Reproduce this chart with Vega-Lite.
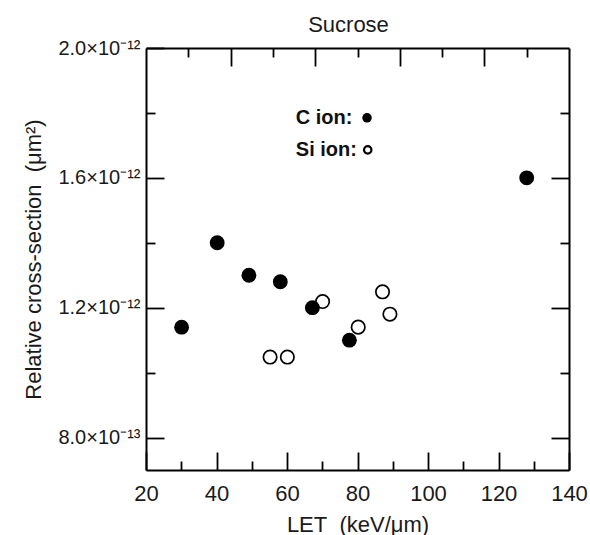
{
  "$schema": "https://vega.github.io/schema/vega-lite/v6.json",
  "autosize": "none",
  "width": 423,
  "height": 422,
  "padding": {"left": 146, "top": 48, "right": 21, "bottom": 65},
  "background": "white",
  "config": {
    "view": {"stroke": null},
    "font": "Liberation Sans",
    "axis": {
      "domainColor": "black",
      "domainWidth": 2,
      "tickColor": "black",
      "tickWidth": 1.8,
      "grid": false,
      "labelFont": "Liberation Sans",
      "labelColor": "#1a1a1a",
      "titleFont": "Liberation Sans",
      "titleFontSize": 22,
      "titleFontWeight": "normal",
      "titleColor": "#1a1a1a"
    }
  },
  "title": {"text": "Sucrose", "font": "Liberation Sans", "fontSize": 22, "fontWeight": "normal", "color": "#1a1a1a", "offset": 1, "dx": -9},
  "datasets": {
    "pts": [
      {"ion": "C", "LET": 30.1, "cs": 1.14e-12},
      {"ion": "C", "LET": 40.2, "cs": 1.40e-12},
      {"ion": "C", "LET": 49.2, "cs": 1.30e-12},
      {"ion": "C", "LET": 58.1, "cs": 1.28e-12},
      {"ion": "C", "LET": 67.2, "cs": 1.20e-12},
      {"ion": "C", "LET": 77.7, "cs": 1.10e-12},
      {"ion": "C", "LET": 128.0, "cs": 1.60e-12},
      {"ion": "Si", "LET": 55.2, "cs": 1.048e-12},
      {"ion": "Si", "LET": 60.1, "cs": 1.048e-12},
      {"ion": "Si", "LET": 70.1, "cs": 1.219e-12},
      {"ion": "Si", "LET": 80.2, "cs": 1.14e-12},
      {"ion": "Si", "LET": 87.1, "cs": 1.249e-12},
      {"ion": "Si", "LET": 89.2, "cs": 1.18e-12}
    ],
    "legend": [
      {"label": "C ion:", "ion": "C", "LET": 62.5, "cs": 1.785e-12, "symLET": 82.7},
      {"label": "Si ion:", "ion": "Si", "LET": 62.5, "cs": 1.686e-12, "symLET": 82.9}
    ]
  },
  "resolve": {"axis": {"x": "independent", "y": "independent"}},
  "layer": [
    {
      "data": {"name": "pts"},
      "transform": [{"filter": "datum.ion === 'C'"}],
      "mark": {"type": "point", "shape": "circle", "filled": true, "color": "black", "opacity": 1, "size": 220},
      "encoding": {
        "x": {
          "field": "LET", "type": "quantitative",
          "scale": {"domain": [20, 140], "nice": false, "zero": false},
          "axis": {
            "orient": "bottom",
            "title": "LET\u00a0\u00a0(keV/\u03bcm)",
            "titlePadding": 10,
            "values": [20, 30, 40, 50, 60, 70, 80, 90, 100, 110, 120, 130, 140],
            "labelExpr": "datum.value % 20 === 0 ? datum.label : ''",
            "labelFontSize": 22,
            "tickSize": {"condition": {"test": "datum.value % 20 === 0", "value": -18}, "value": -9},
            "labelPadding": 31,
            "labelFlush": false
          }
        },
        "y": {
          "field": "cs", "type": "quantitative",
          "scale": {"domain": [7e-13, 2e-12], "nice": false, "zero": false},
          "axis": {
            "orient": "left",
            "title": "Relative cross-section\u00a0\u00a0(\u03bcm\u00b2)",
            "titlePadding": 12,
            "values": [8e-13, 1e-12, 1.2e-12, 1.4e-12, 1.6e-12, 1.8e-12, 2e-12],
            "labelExpr": "round(datum.value*1e13) % 4 === 0 ? (datum.value < 1e-12 ? '8.0\u00d710\u207b\u00b9\u00b3' : format(datum.value*1e12, '.1f') + '\u00d710\u207b\u00b9\u00b2') : ''",
            "labelFontSize": 20,
            "tickSize": {"condition": {"test": "round(datum.value*1e13) % 4 === 0", "value": -18}, "value": -9},
            "labelPadding": 24,
            "labelFlush": false
          }
        }
      }
    },
    {
      "data": {"name": "pts"},
      "transform": [{"filter": "datum.ion === 'Si'"}],
      "mark": {"type": "point", "shape": "circle", "filled": false, "color": "black", "strokeWidth": 1.7, "opacity": 1, "size": 180},
      "encoding": {
        "x": {
          "field": "LET", "type": "quantitative",
          "axis": {
            "orient": "top",
            "title": null,
            "values": [32, 44, 56, 68, 80, 92, 104, 116, 128],
            "labels": false,
            "tickSize": {"condition": {"test": "round((datum.value - 20) / 12) % 2 === 0", "value": -18}, "value": -9}
          }
        },
        "y": {
          "field": "cs", "type": "quantitative",
          "axis": {
            "orient": "right",
            "title": null,
            "values": [8e-13, 1e-12, 1.2e-12, 1.4e-12, 1.6e-12, 1.8e-12],
            "labels": false,
            "tickSize": {"condition": {"test": "round(datum.value*1e13) % 4 === 0", "value": -18}, "value": -9}
          }
        }
      }
    },
    {
      "data": {"name": "legend"},
      "mark": {"type": "text", "align": "left", "baseline": "middle", "fontSize": 20, "fontWeight": "bold", "font": "Liberation Sans", "color": "#111"},
      "encoding": {
        "x": {"field": "LET", "type": "quantitative", "axis": null},
        "y": {"field": "cs", "type": "quantitative", "axis": null},
        "text": {"field": "label"}
      }
    },
    {
      "data": {"name": "legend"},
      "transform": [{"filter": "datum.ion === 'C'"}],
      "mark": {"type": "point", "shape": "circle", "filled": true, "color": "black", "opacity": 1, "size": 90},
      "encoding": {
        "x": {"field": "symLET", "type": "quantitative", "axis": null},
        "y": {"field": "cs", "type": "quantitative", "axis": null}
      }
    },
    {
      "data": {"name": "legend"},
      "transform": [{"filter": "datum.ion === 'Si'"}],
      "mark": {"type": "point", "shape": "circle", "filled": false, "color": "black", "strokeWidth": 2.2, "opacity": 1, "size": 55},
      "encoding": {
        "x": {"field": "symLET", "type": "quantitative", "axis": null},
        "y": {"field": "cs", "type": "quantitative", "axis": null}
      }
    }
  ]
}
